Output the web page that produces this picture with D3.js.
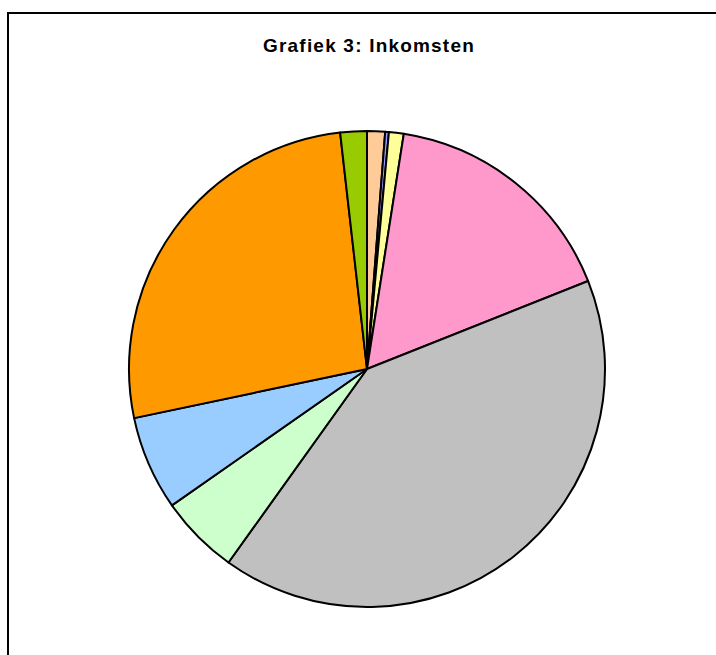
<!DOCTYPE html>
<html>
<head>
<meta charset="utf-8">
<script src="https://cdn.jsdelivr.net/npm/d3@7"></script>
<style>
  html, body { margin: 0; padding: 0; background: #fff; overflow: hidden; }
</style>
</head>
<body>
<svg id="chart" width="716" height="655"></svg>
<script>
// slices in drawing order, clockwise from 12 o'clock
const categories = ['post 1', 'post 2', 'post 3', 'post 4', 'post 5', 'post 6', 'post 7', 'post 8', 'post 9'];
const values = [1.22, 0.25, 1.0, 16.5, 40.9, 5.4, 6.4, 26.5, 1.8];
const colors = ['#FFCC99', '#9999FF', '#FFFF99', '#FF99CC', '#C0C0C0', '#CCFFCC', '#99CCFF', '#FF9900', '#99CC00'];
const title = 'Grafiek 3: Inkomsten';

const svg = d3.select('#chart');

// chart area frame (runs off the right and bottom edge)
svg.append('rect')
  .attr('x', 8)
  .attr('y', 13)
  .attr('width', 760)
  .attr('height', 700)
  .style('fill', '#fff')
  .style('stroke', '#000')
  .style('stroke-width', 2);

svg.append('text')
  .attr('x', 369)
  .attr('y', 52)
  .style('text-anchor', 'middle')
  .style('font-family', 'Liberation Sans, Arial, sans-serif')
  .style('font-weight', 'bold')
  .style('font-size', '19px')
  .style('letter-spacing', '1.2px')
  .style('fill', '#000')
  .text(title);

const cx = 367;
const cy = 369;
const radius = 238;

const pie = d3.pie()
  .sort(null)
  .value((d) => d.value);

const arc = d3.arc()
  .innerRadius(0)
  .outerRadius(radius);

const data = categories.map((c, i) => ({ label: c, value: values[i], color: colors[i] }));

svg.append('g')
  .attr('transform', `translate(${cx},${cy})`)
  .selectAll('path')
  .data(pie(data))
  .join('path')
  .attr('d', arc)
  .style('fill', (d) => d.data.color)
  .style('stroke', '#000')
  .style('stroke-width', 2)
  .style('stroke-linejoin', 'round');
</script>
</body>
</html>
